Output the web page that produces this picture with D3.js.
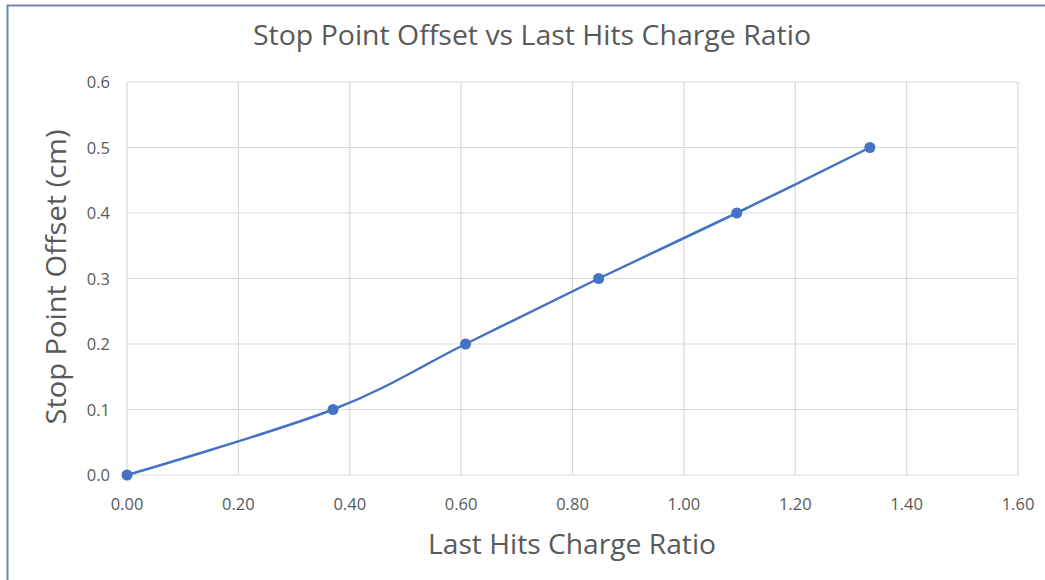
<!DOCTYPE html>
<html>
<script src="https://d3js.org/d3.v7.min.js"></script>
<style>
  body { margin: 0; background: #fff; }
  text { font-family: "Open Sans", sans-serif; fill: #595959; }
</style>
<body>
<div id="chart"></div>
<script>
    // data
    var ratio  = [0.00, 0.37, 0.608, 0.847, 1.095, 1.334];
    var offset = [0.0, 0.1, 0.2, 0.3, 0.4, 0.5];
    var xTicks = [0, 0.2, 0.4, 0.6, 0.8, 1.0, 1.2, 1.4, 1.6];
    var yTicks = [0, 0.1, 0.2, 0.3, 0.4, 0.5, 0.6];

    var W = 1045, H = 580;
    var svg = d3.select("#chart").append("svg")
        .attr("width", W)
        .attr("height", H);

    // frame (only top and left edges show in the crop)
    svg.append("path")
        .attr("d", "M7.5," + H + "V5.5H" + W)
        .attr("fill", "none")
        .attr("stroke", "#7585ad")
        .attr("stroke-width", 2);

    var x = d3.scaleLinear().domain([0, 1.6]).range([127, 1018]);
    var y = d3.scaleLinear().domain([0, 0.6]).range([475, 82]);

    var g = svg.append("g");

    // gridlines
    g.selectAll(".vgrid").data(xTicks).join("line")
        .attr("x1", d => x(d)).attr("x2", d => x(d))
        .attr("y1", y(0)).attr("y2", y(0.6))
        .attr("stroke", "#d9d9d9").attr("stroke-width", 1.2);
    g.selectAll(".hgrid").data(yTicks).join("line")
        .attr("x1", x(0)).attr("x2", x(1.6))
        .attr("y1", d => y(d)).attr("y2", d => y(d))
        .attr("stroke", "#d9d9d9").attr("stroke-width", 1.2);

    // tick labels
    g.selectAll(".xl").data(xTicks).join("text")
        .attr("x", d => x(d))
        .attr("y", 510)
        .attr("text-anchor", "middle")
        .style("font-size", "16.5px")
        .text(d => d.toFixed(2));
    g.selectAll(".yl").data(yTicks).join("text")
        .attr("x", 110)
        .attr("y", d => y(d) + 6)
        .attr("text-anchor", "end")
        .style("font-size", "16.5px")
        .text(d => d.toFixed(1));

    var pts = ratio.map((r, i) => [r, offset[i]]);

    var line = d3.line()
        .x(d => x(d[0]))
        .y(d => y(d[1]))
        .curve(d3.curveCardinal.tension(0));

    g.append("path")
        .datum(pts)
        .attr("d", line)
        .attr("fill", "none")
        .attr("stroke", "#4472c4")
        .attr("stroke-width", 2.5);

    g.selectAll("circle").data(pts).join("circle")
        .attr("cx", d => x(d[0]))
        .attr("cy", d => y(d[1]))
        .attr("r", 5.5)
        .attr("fill", "#4472c4");

    // titles
    svg.append("text")
        .attr("x", 532).attr("y", 45)
        .attr("text-anchor", "middle")
        .style("font-size", "26.5px")
        .attr("textLength", 558)
        .attr("lengthAdjust", "spacingAndGlyphs")
        .text("Stop Point Offset vs Last Hits Charge Ratio");

    svg.append("text")
        .attr("x", 572).attr("y", 554)
        .attr("text-anchor", "middle")
        .style("font-size", "26.5px")
        .attr("textLength", 288)
        .attr("lengthAdjust", "spacingAndGlyphs")
        .text("Last Hits Charge Ratio");

    svg.append("text")
        .attr("transform", "translate(66,277) rotate(-90)")
        .attr("text-anchor", "middle")
        .style("font-size", "26.5px")
        .attr("textLength", 295)
        .attr("lengthAdjust", "spacingAndGlyphs")
        .text("Stop Point Offset (cm)");
</script>
</body>
</html>
